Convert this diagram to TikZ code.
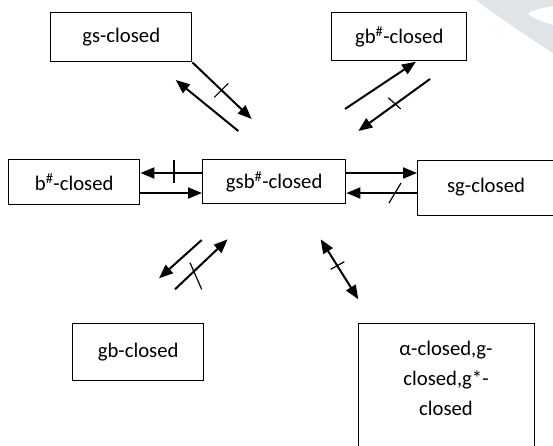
\documentclass[tikz,border=0pt]{standalone}
\usepackage{fontspec}
\setmainfont{Carlito}
\usetikzlibrary{arrows.meta}
\definecolor{wm}{RGB}{222,228,232}
\begin{document}
\begin{tikzpicture}[x=1pt,y=-1pt,
  box/.style={draw, line width=1.4pt, inner sep=0pt, anchor=north west, font=\fontsize{20.7}{30}\selectfont},
  arr/.style={line width=2pt, -{Triangle[length=14pt,width=11pt]}},
  darr/.style={line width=2pt, {Triangle[length=14pt,width=11pt]}-{Triangle[length=14pt,width=11pt]}},
  tickline/.style={line width=1.2pt},
  lbl/.style={inner sep=0pt, align=center, font=\fontsize{20.7}{30}\selectfont}]
\useasboundingbox (0,0) rectangle (553,445);
\clip (0,0) rectangle (553,445);
\fill[white] (0,0) rectangle (553,445);
% watermark
\fill[wm] (476,0) -- (553,0) -- (553,6) .. controls (540,8) and (530,11) .. (528,14)
  .. controls (532,18) and (542,22) .. (553,25) -- (553,53) .. controls (525,35) and (500,18) .. (476,0) -- cycle;
% boxes
\node[box, minimum width=141pt, minimum height=49pt] (gs) at (50,12) {gs-closed};
\node[box, minimum width=135pt, minimum height=48pt] (gbs) at (331,12) {gb\textsuperscript{\#}-closed};
\node[box, minimum width=131pt, minimum height=45pt] (bs) at (8,159) {b\textsuperscript{\#}-closed};
\node[box, minimum width=143pt, minimum height=44pt] (gsb) at (202,159) {gsb\textsuperscript{\#}-closed};
\node[box, minimum width=150pt, minimum height=55pt] (sg) at (417,160) {};
\node[lbl] (sgt) at (486,187) {sg-closed};
\node[box, minimum width=131pt, minimum height=57pt] (gb) at (72,323) {gb-closed};
\node[box, minimum width=176pt, minimum height=140pt] (al) at (358,323) {};
\node[lbl, anchor=north] (alt) at (446,341) {α-closed,g-\\closed,g*-\\closed};
% gs arrows
\coordinate (a1e) at (251.7,119);
\coordinate (a2s) at (238.3,131);
\coordinate (a2e) at (175.7,80);
\draw[arr] (gs.south east) -- (a1e);
\draw[tickline] (214.3,97.3) -- (228.3,83.3);
\draw[arr] (a2s) -- (a2e);
% gb# arrows
\coordinate (b1s) at (345,109);
\coordinate (b2s) at (430,79);
\coordinate (b2e) at (358.3,131);
\draw[arr] (b1s) -- (416,61.7);
\draw[arr] (b2s) -- (b2e);
\draw[tickline] (388.3,97.7) -- (400.7,109);
% horizontal arrows
\coordinate (h1) at (0,173);
\coordinate (h2) at (0,193);
\draw[arr] (gsb.west |- h1) -- (bs.east |- h1);
\draw[arr] (bs.east |- h2) -- (gsb.west |- h2);
\draw[tickline] (174,160) -- (174,183);
\draw[arr] (gsb.east |- h1) -- (sg.west |- h1);
\draw[arr] (sg.west |- h2) -- (gsb.east |- h2);
\draw[tickline] (389,203) -- (401,183);
% gb arrows
\coordinate (c1s) at (201.7,240);
\coordinate (c1e) at (159,278.3);
\coordinate (c2s) at (175,289.3);
\coordinate (c2e) at (227.7,239.3);
\draw[arr] (c1s) -- (c1e);
\draw[arr] (c2s) -- (c2e);
\draw[tickline] (190,262.7) -- (201.7,289.3);
% alpha double arrow
\coordinate (d1) at (320.7,239.3);
\coordinate (d2) at (358.3,299.3);
\draw[darr] (d1) -- (d2);
\draw[tickline] (330.7,269.3) -- (344.3,261.7);
\end{tikzpicture}
\end{document}
